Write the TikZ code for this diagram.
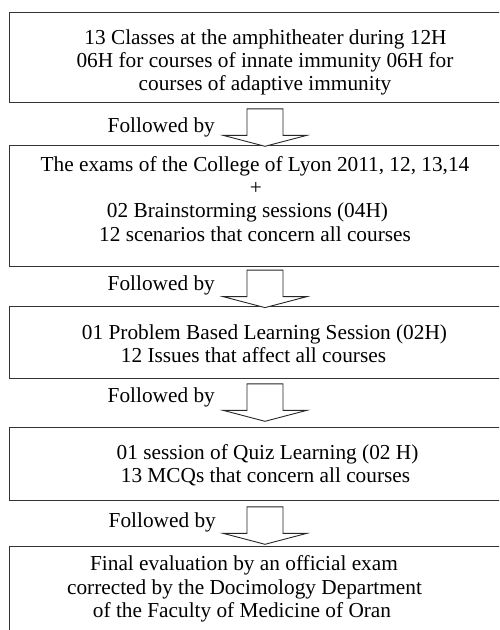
\documentclass[tikz,border=0pt]{standalone}
\usepackage{fontspec}
\setmainfont{Liberation Serif}
\begin{document}
\begin{tikzpicture}[x=1pt,y=-1pt,
  box/.style={draw=black!80, line width=1.1pt, rectangle, inner sep=0pt, anchor=north west, minimum width=530pt},
  txt/.style={anchor=base, inner sep=0pt, font=\fontsize{21.3}{23.3}\selectfont},
  follow/.style={anchor=base east, inner sep=0pt, font=\fontsize{21.3}{23.3}\selectfont},
  barrow/.style={draw=black!85, line width=0.9pt, fill=white, line join=miter}]
\useasboundingbox (0,0) rectangle (499,630);
\clip (0,0) rectangle (499,630);
% boxes
\node[box, minimum height=90pt]   (b1) at (9,12.3) {};
\node[box, minimum height=121pt]  (b2) at (9,145) {};
\node[box, minimum height=72.3pt] (b3) at (9,306) {};
\node[box, minimum height=72.7pt] (b4) at (9,427.3) {};
\node[box, minimum height=100pt]  (b5) at (9,545.7) {};
% box texts
\node[txt] (t11) at (265.5,44)   {13 Classes at the amphitheater during 12H};
\node[txt] (t12) at (265,67.3)   {06H for courses of innate immunity 06H for};
\node[txt] (t13) at (265,90.6)   {courses of adaptive immunity};
\node[txt] (t21) at (255,171)    {The exams of the College of Lyon 2011, 12, 13,14};
\node[txt] (t22) at (256,194.3)  {+};
\node[txt] (t23) at (247.5,217.6){02 Brainstorming sessions (04H)};
\node[txt] (t24) at (255,241)    {12 scenarios that concern all courses};
\node[txt] (t31) at (264.5,339)  {01 Problem Based Learning Session (02H)};
\node[txt] (t32) at (253.5,362.3){12 Issues that affect all courses};
\node[txt] (t41) at (267.5,459)  {01 session of Quiz Learning (02 H)};
\node[txt] (t42) at (265.5,482.3){13 MCQs that concern all courses};
\node[txt] (t51) at (244,570.7)  {Final evaluation by an official exam};
\node[txt] (t52) at (244.5,594)  {corrected by the Docimology Department};
\node[txt] (t53) at (242,617.3)  {of the Faculty of Medicine of Oran};
% arrow start points
\coordinate (a1) at (b1.south -| 265,0);
\coordinate (a2) at (b2.south -| 265,0);
\coordinate (a3) at (b3.south -| 265,0);
\coordinate (a4) at (b4.south -| 265,0);
% block arrows
\foreach \a/\g in {a1/5.4, a2/3, a3/4.4, a4/5.7}{
  \draw[barrow] (\a) ++(-18,\g) -- ++(36,0) -- ++(0,26.5) -- ++(24,0) -- ++(-42,11) -- ++(-42,-11) -- ++(24,0) -- cycle;
}
% labels
\node[follow] (f1) at (215,132.7) {Followed by};
\node[follow] (f2) at (215,290.7) {Followed by};
\node[follow] (f3) at (215,402.7) {Followed by};
\node[follow] (f4) at (216,527.3) {Followed by};
\end{tikzpicture}
\end{document}
